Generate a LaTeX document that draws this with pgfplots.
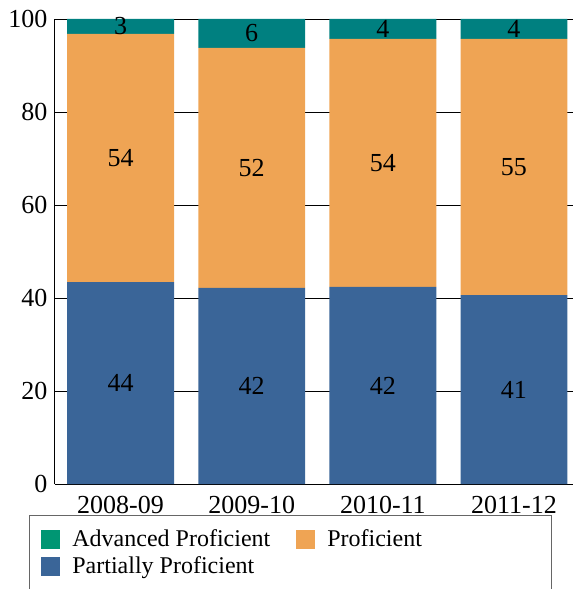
\documentclass[border=0pt]{standalone}
\usepackage{pgfplots}
\pgfplotsset{compat=1.18}
\usepackage{pgfplotstable}
\usepackage{fontspec}
\setmainfont{Liberation Serif}

\definecolor{advteal}{RGB}{0,128,128}
\definecolor{advleg}{RGB}{0,150,115}
\definecolor{profor}{RGB}{239,164,84}
\definecolor{partbl}{RGB}{58,101,152}

% segment heights and printed labels
\pgfplotstableread{
x  y    lbl
0  43.4 44
1  42.2 42
2  42.4 42
3  40.6 41
}\partial
\pgfplotstableread{
x  y    lbl
0  53.4 54
1  51.6 52
2  53.3 54
3  55.1 55
}\proficient
\pgfplotstableread{
x  y    lbl
0  3.2  3
1  6.2  6
2  4.3  4
3  4.3  4
}\advanced

\begin{document}
\begin{tikzpicture}
\begin{axis}[
    name=ax,
    ybar stacked,
    bar width=0.815,
    width=518pt, height=465pt, scale only axis,
    xmin=-0.5, xmax=3.45,
    ymin=0, ymax=100,
    xtick=data,
    xticklabels={2008-09,2009-10,2010-11,2011-12},
    ytick={0,20,...,100},
    axis lines=left,
    axis line style={-, black, line width=1pt},
    major tick length=0pt,
    ymajorgrids,
    grid style={black, line width=0.8pt},
    /pgf/number format/assume math mode=true,
    tick label style={font=\fontsize{26}{30}\selectfont},
    xticklabel style={yshift=-9pt},
    yticklabel style={xshift=-4pt},
    nodes near coords,
    point meta=explicit symbolic,
    every node near coord/.append style={anchor=center,
        font=\fontsize{26}{30}\selectfont},
    legend image code/.code={\fill[#1] (0pt,-10pt) rectangle (19pt,9pt);},
    reverse legend,
    legend columns=2,
    legend cell align=left,
    legend style={at={(-0.0502,-0.0667)}, anchor=north west,
        draw=black!60, line width=0.8pt,
        font=\fontsize{24}{28}\selectfont,
        inner xsep=12pt, inner ysep=12pt, row sep=5pt,
        /tikz/every odd column/.append style={column sep=10pt},
        /tikz/every even column/.append style={column sep=24pt}},
]
\addplot[fill=partbl, draw=none] table[x=x, y=y, meta=lbl] {\partial};
\addlegendentry{Partially Proficient\rule[-40pt]{0pt}{0pt}}
\addplot[fill=profor, draw=none] table[x=x, y=y, meta=lbl] {\proficient};
\addlegendentry{\makebox[210pt][l]{Proficient}}
\addplot[fill=advteal, draw=none,
    legend image code/.code={\fill[advleg] (0pt,-10pt) rectangle (19pt,9pt);}]
    table[x=x, y=y, meta=lbl] {\advanced};
\addlegendentry{Advanced Proficient}
\end{axis}
\pgfresetboundingbox
\path[use as bounding box] ([shift={(-55pt,-105pt)}]ax.south west) rectangle ([shift={(0pt,19pt)}]ax.north east);
\end{tikzpicture}
\end{document}
